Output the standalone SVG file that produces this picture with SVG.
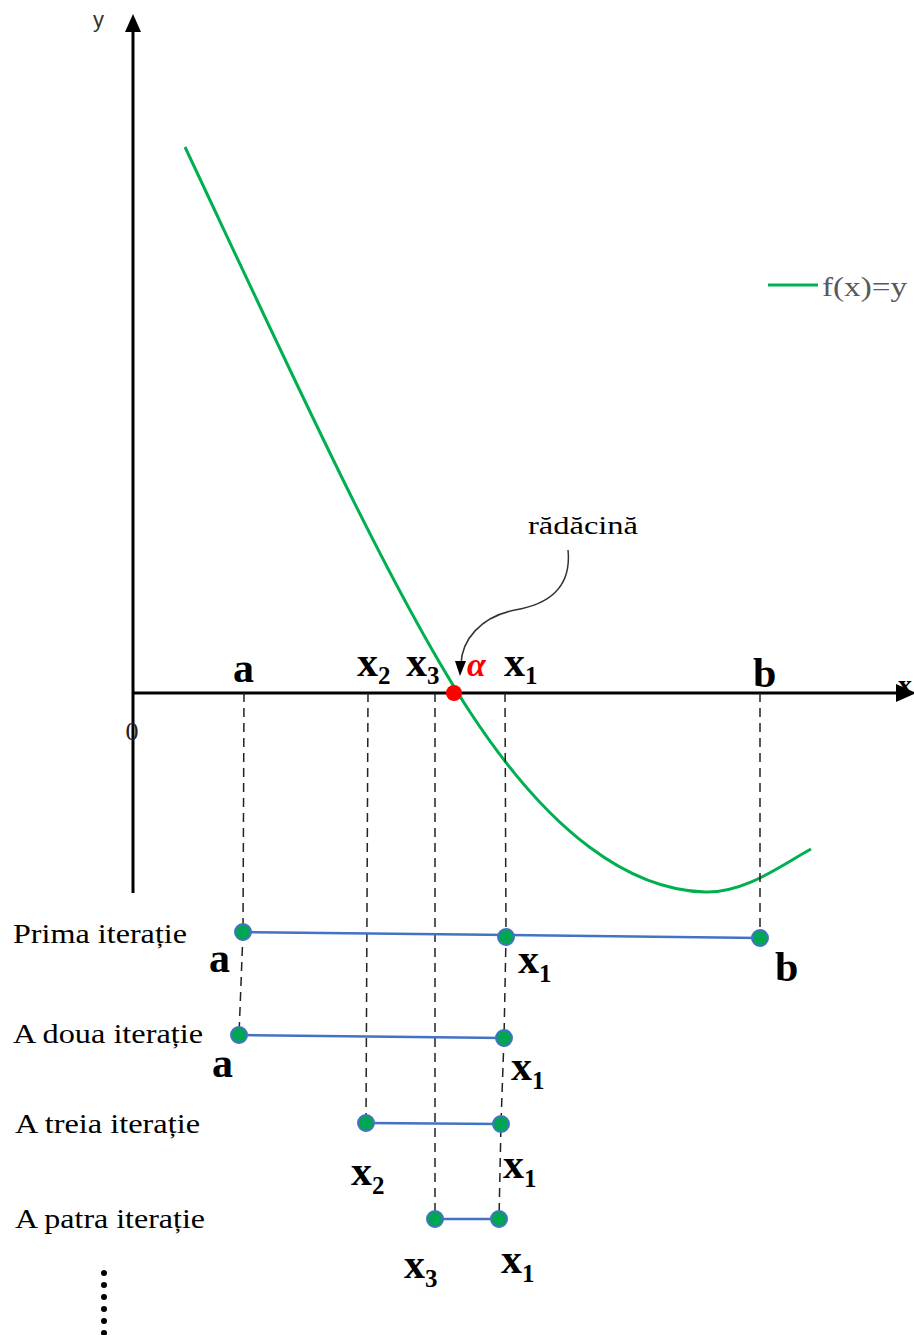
<svg xmlns="http://www.w3.org/2000/svg" width="914" height="1335" viewBox="0 0 914 1335">
<style>
.ax{stroke:#000;stroke-width:3;fill:none}
.dash{stroke:#222;stroke-width:1.5;stroke-dasharray:9 6;fill:none}
.seg{stroke:#4472c4;stroke-width:2.5;fill:none}
.dot{fill:#00a651;stroke:#4472c4;stroke-width:2}
.lbl{font-family:"Liberation Serif",serif;font-weight:bold;font-size:42px;fill:#000}
.sub{font-size:25px}
.it{font-family:"Liberation Serif",serif;font-size:28px;fill:#000}
</style>
<rect width="914" height="1335" fill="#fff"/>
<g id="axes">
<line class="ax" x1="133" y1="893" x2="133" y2="28"/>
<path d="M133,14 L141,32 L125,32 z" fill="#000"/>
<line class="ax" x1="133" y1="693" x2="900" y2="693"/>
<text x="898" y="694" font-family="Liberation Serif,serif" font-weight="bold" font-size="28" fill="#000">x</text>
<path d="M916,693 L896,684 L896,702 z" fill="#000"/>
<text x="93" y="27" font-family="Liberation Sans,sans-serif" font-size="22" fill="#333">y</text>
<text x="132" y="740" text-anchor="middle" font-family="Liberation Serif,serif" font-size="26" fill="#222">0</text>
</g>
<g id="curve">
<path d="M185,147 C290,370 390,590 470,712 S630,890 705,892 C745,893 780,866 811,849" stroke="#00b050" stroke-width="3" fill="none"/>
</g>
<g id="legend">
<line x1="768" y1="285" x2="818" y2="285" stroke="#00b050" stroke-width="3"/>
<text x="822" y="296" textLength="85" lengthAdjust="spacingAndGlyphs" font-family="Liberation Serif,serif" font-size="27" fill="#595959">f(x)=y</text>
</g>
<g id="connectors">
<line class="dash" x1="244" y1="693" x2="243" y2="932"/>
<line class="dash" x1="243" y1="932" x2="239" y2="1035"/>
<line class="dash" x1="368" y1="693" x2="366" y2="1123"/>
<line class="dash" x1="435" y1="693" x2="435" y2="1219"/>
<polyline class="dash" points="505,693 506,937 504,1038 501,1123 499,1219"/>
<line class="dash" x1="760" y1="693" x2="760" y2="938"/>
<path d="M568,550 C572,590 545,605 515,610 C480,617 462,640 461,664" stroke="#333" stroke-width="1.5" fill="none"/>
<path d="M460,676 L455,661 L466,661 z" fill="#000"/>
<line class="seg" x1="243" y1="932" x2="760" y2="938"/>
<line class="seg" x1="239" y1="1035" x2="504" y2="1038"/>
<line class="seg" x1="366" y1="1123" x2="501" y2="1124"/>
<line class="seg" x1="435" y1="1219" x2="499" y2="1219"/>
</g>
<g id="root">
<circle cx="454" cy="693" r="8" fill="#ff0000"/>
<text x="467" y="676" font-family="Liberation Serif,serif" font-weight="bold" font-style="italic" font-size="34" fill="#ff0000">α</text>
<text x="528" y="534" textLength="110" lengthAdjust="spacingAndGlyphs" font-family="Liberation Serif,serif" font-size="25" fill="#000">rădăcină</text>
</g>
<g id="axis-labels">
<text class="lbl" x="233" y="682">a</text>
<text class="lbl" x="357" y="676">x<tspan class="sub" dy="8">2</tspan></text>
<text class="lbl" x="406" y="676">x<tspan class="sub" dy="8">3</tspan></text>
<text class="lbl" x="504" y="676">x<tspan class="sub" dy="8">1</tspan></text>
<text class="lbl" x="753" y="687">b</text>
</g>
<g id="iter1">
<text class="it" x="13" y="943" textLength="174" lengthAdjust="spacingAndGlyphs">Prima iterație</text>
<circle class="dot" cx="243" cy="932" r="8"/>
<circle class="dot" cx="506" cy="937" r="8"/>
<circle class="dot" cx="760" cy="938" r="8"/>
<text class="lbl" x="209" y="972">a</text>
<text class="lbl" x="518" y="973">x<tspan class="sub" dy="9">1</tspan></text>
<text class="lbl" x="775" y="981">b</text>
</g>
<g id="iter2">
<text class="it" x="13" y="1043" textLength="190" lengthAdjust="spacingAndGlyphs">A doua iterație</text>
<circle class="dot" cx="239" cy="1035" r="8"/>
<circle class="dot" cx="504" cy="1038" r="8"/>
<text class="lbl" x="212" y="1077">a</text>
<text class="lbl" x="511" y="1080">x<tspan class="sub" dy="9">1</tspan></text>
</g>
<g id="iter3">
<text class="it" x="15" y="1133" textLength="185" lengthAdjust="spacingAndGlyphs">A treia iterație</text>
<circle class="dot" cx="366" cy="1123" r="8"/>
<circle class="dot" cx="501" cy="1124" r="8"/>
<text class="lbl" x="351" y="1185">x<tspan class="sub" dy="9">2</tspan></text>
<text class="lbl" x="503" y="1178">x<tspan class="sub" dy="9">1</tspan></text>
</g>
<g id="iter4">
<text class="it" x="15" y="1228" textLength="190" lengthAdjust="spacingAndGlyphs">A patra iterație</text>
<circle class="dot" cx="435" cy="1219" r="8"/>
<circle class="dot" cx="499" cy="1219" r="8"/>
<text class="lbl" x="404" y="1278">x<tspan class="sub" dy="9">3</tspan></text>
<text class="lbl" x="501" y="1273">x<tspan class="sub" dy="9">1</tspan></text>
</g>
<g id="ellipsis" fill="#000">
<circle cx="104" cy="1273" r="3"/>
<circle cx="104" cy="1285" r="3"/>
<circle cx="104" cy="1297" r="3"/>
<circle cx="104" cy="1309" r="3"/>
<circle cx="104" cy="1321" r="3"/>
<circle cx="104" cy="1333" r="3"/>
</g>
</svg>
